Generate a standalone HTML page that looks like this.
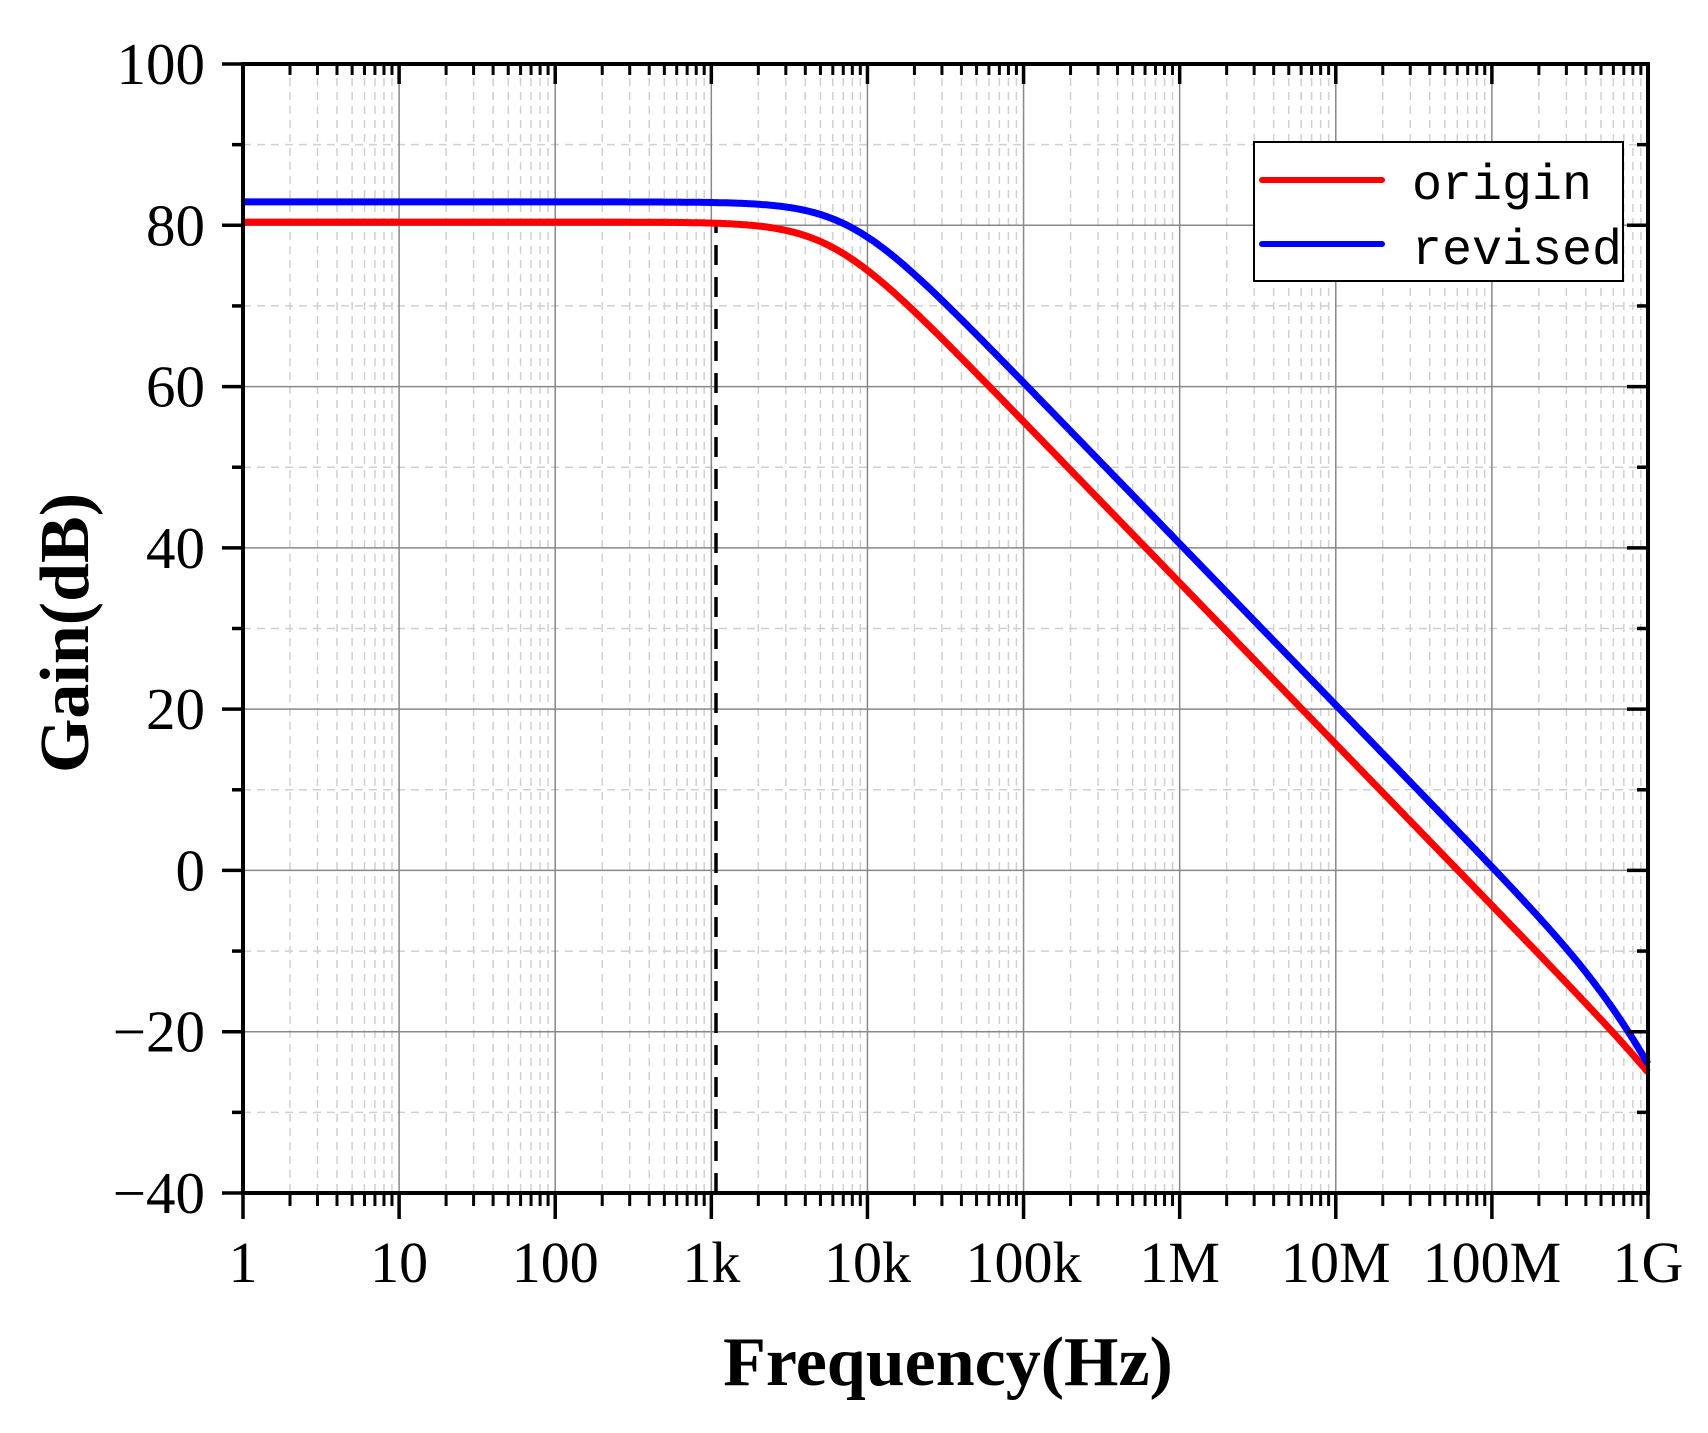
<!DOCTYPE html>
<html><head><meta charset="utf-8"><style>
html,body{margin:0;padding:0;background:#fff;}
svg{display:block;}
</style></head><body>
<svg id="s" width="1708" height="1433" xmlns="http://www.w3.org/2000/svg">
<rect width="1708" height="1433" fill="#fff"/>
<g id="grid"></g>
<g id="curves"></g>
<g id="axes"></g>
<g id="labels" font-family="Liberation Serif, serif" fill="#000"></g>
<text x="88" y="633" transform="rotate(-90 88 633)" font-family="Liberation Serif, serif" font-weight="bold" font-size="70" text-anchor="middle">Gain(dB)</text>
<text x="948" y="1385" font-family="Liberation Serif, serif" font-weight="bold" font-size="70" text-anchor="middle">Frequency(Hz)</text>
<rect x="1254" y="142" width="369" height="139" fill="#fff" stroke="#000" stroke-width="2"/>
<line x1="1262" y1="180" x2="1382" y2="180" stroke="#f00" stroke-width="6" stroke-linecap="round"/>
<line x1="1262" y1="244" x2="1382" y2="244" stroke="#00f" stroke-width="6" stroke-linecap="round"/>
<text x="1412" y="199" font-family="Liberation Mono, monospace" font-size="50">origin</text>
<text x="1412" y="264" font-family="Liberation Mono, monospace" font-size="50">revised</text>
</svg>
<script>
const NS="http://www.w3.org/2000/svg";
const X0=243,X1=1648,Y0=64,Y1=1193;
const dx=(X1-X0)/9, dy=(Y1-Y0)/140;
const fx=l=>X0+l*dx, gy=g=>Y0+(100-g)*dy;
function el(p,t,a){const e=document.createElementNS(NS,t);for(const k in a)e.setAttribute(k,a[k]);p.appendChild(e);return e;}
const G=document.getElementById('grid'),A=document.getElementById('axes'),L=document.getElementById('labels'),C=document.getElementById('curves');
for(let d=0;d<9;d++){for(let m=2;m<=9;m++){const x=fx(d+Math.log10(m));el(G,'line',{x1:x,y1:Y0,x2:x,y2:Y1,stroke:'#d0d0d0','stroke-width':1.5,'stroke-dasharray':'8 6'});}}
for(let g=-30;g<100;g+=20){const y=gy(g);el(G,'line',{x1:X0,y1:y,x2:X1,y2:y,stroke:'#d0d0d0','stroke-width':1.5,'stroke-dasharray':'8 6'});}
for(let d=1;d<9;d++){const x=fx(d);el(G,'line',{x1:x,y1:Y0,x2:x,y2:Y1,stroke:'#888','stroke-width':1.5});}
for(let g=-20;g<100;g+=20){const y=gy(g);el(G,'line',{x1:X0,y1:y,x2:X1,y2:y,stroke:'#888','stroke-width':1.5});}
el(G,'line',{x1:716,y1:Y1,x2:716,y2:224,stroke:'#000','stroke-width':3.5,'stroke-dasharray':'20 12'});
function curve(dc,p1,p2,col){let d='';for(let i=0;i<=900;i++){const l=i/100,f=Math.pow(10,l);
 const g=dc-10*Math.log10(1+(f/p1)**2)-10*Math.log10(1+(f/p2)**2);d+=(i?'L':'M')+fx(l).toFixed(1)+' '+gy(g).toFixed(1);}
 el(C,'path',{d:d,fill:'none',stroke:col,'stroke-width':7,'stroke-linejoin':'round'});}
curve(80.4,5.8e3,2.4e9,'#f00');
curve(82.9,7.6e3,7.4e8,'#00f');
el(A,'rect',{x:X0,y:Y0,width:X1-X0,height:Y1-Y0,fill:'none',stroke:'#000','stroke-width':4});
for(let d=0;d<=9;d++){const x=fx(d);
 el(A,'line',{x1:x,y1:Y1,x2:x,y2:Y1+26,stroke:'#000','stroke-width':3.5});
 el(A,'line',{x1:x,y1:Y0,x2:x,y2:Y0+20,stroke:'#000','stroke-width':3.5});
 if(d<9)for(let m=2;m<=9;m++){const xm=fx(d+Math.log10(m));
  el(A,'line',{x1:xm,y1:Y1,x2:xm,y2:Y1+13,stroke:'#000','stroke-width':3});
  el(A,'line',{x1:xm,y1:Y0,x2:xm,y2:Y0+11,stroke:'#000','stroke-width':3});}}
const xl=['1','10','100','1k','10k','100k','1M','10M','100M','1G'];
xl.forEach((t,i)=>{const e=el(L,'text',{x:fx(i),y:1282,'font-size':58,'text-anchor':'middle'});e.textContent=t;});
for(let g=-40;g<=100;g+=10){const y=gy(g),maj=g%20===0;
 el(A,'line',{x1:X0-(maj?21:11),y1:y,x2:X0,y2:y,stroke:'#000','stroke-width':3.5});
 el(A,'line',{x1:X1,y1:y,x2:X1-(maj?21:11),y2:y,stroke:'#000','stroke-width':3.5});
 if(maj){const e=el(L,'text',{x:205,y:y+20,'font-size':59,'text-anchor':'end'});e.textContent=(g<0?'\u2212':'')+Math.abs(g);}}
</script>
</body></html>
